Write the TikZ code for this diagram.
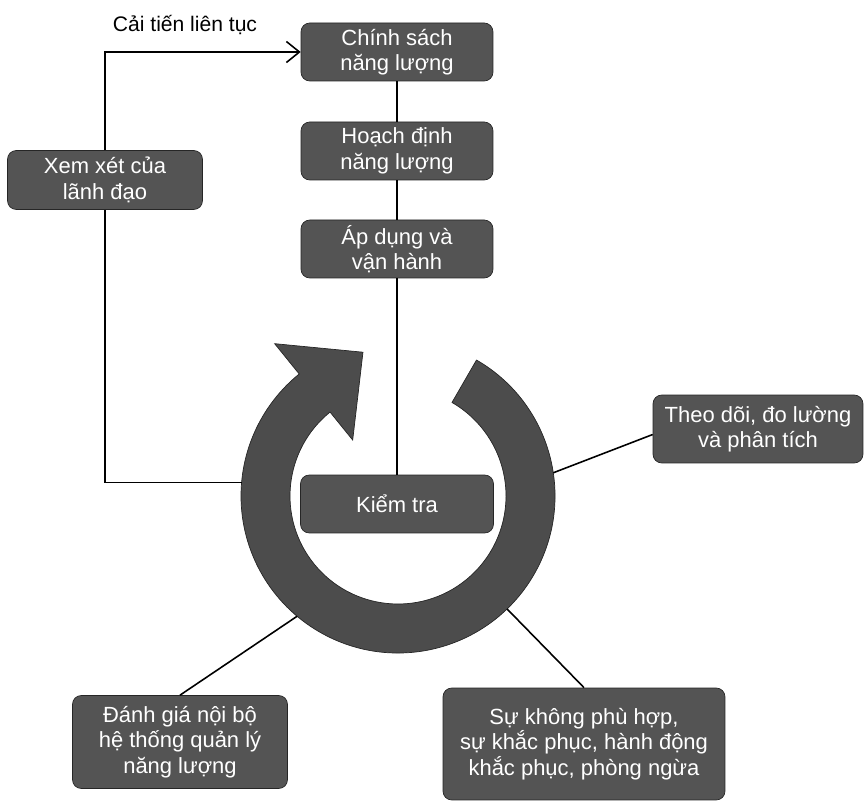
\documentclass[tikz,border=0pt]{standalone}
\usepackage{fontspec}
\setmainfont{Liberation Sans}
\usetikzlibrary{arrows.meta,calc}

\begin{document}
\begin{tikzpicture}[x=0.02cm,y=0.02cm,>={Straight Barb[length=2.6mm,width=4.2mm]},
	box/.style={draw=black!85,fill=black!67,rounded corners=5pt,text=white,inner sep=2pt,
		font=\fontsize{12.5}{14.5}\selectfont},
	ringfill/.style={draw=black!85,fill=black!70},
	link/.style={line width=0.9pt}]

	\useasboundingbox (0,0) rectangle (864,804);

	% vong tron mui ten
	\coordinate (c) at (398,308);
	\draw[ringfill] ($(c)+(60:157)$) arc[start angle=60,end angle=-231,radius=157]
		-- ($(c)+(129:196)$) -- ($(c)+(103.7:148)$) -- ($(c)+(129:72)$) -- ($(c)+(129:108)$)
		arc[start angle=129,end angle=420,radius=108] -- cycle;

	% cac khoi ben tren
	\node[box, minimum height=1.16cm,minimum width=3.84cm] (chinhsach) at (397,752) {\parbox{3.6cm}{\centering Chính sách\\năng lượng}};
	\node[box, minimum height=1.16cm,minimum width=3.84cm] (hoachdinh) at (397,653) {\parbox{3.6cm}{\centering Hoạch định\\năng lượng}};
	\node[box, minimum height=1.16cm,minimum width=3.84cm] (apdung) at (397,555) {\parbox{3.6cm}{\centering Áp dụng và\\vận hành}};
	\node[box, minimum height=1.18cm,minimum width=3.9cm] (xemxet) at (105,624) {\parbox{3.6cm}{\centering Xem xét của\\lãnh đạo}};
	\node[box, minimum height=1.16cm,minimum width=3.86cm] (kiemtra) at (397,300) {Kiểm tra};

	% cac khoi xung quanh
	\node[box, minimum height=1.36cm,minimum width=4.2cm] (theodoi) at (758,375) {\parbox{4cm}{\centering Theo dõi, đo lường\\và phân tích}};
	\node[box, minimum height=1.86cm,minimum width=4.3cm] (danhgia) at (180,62) {\parbox{4.1cm}{\centering Đánh giá nội bộ\\hệ thống quản lý\\năng lượng}};
	\node[box, minimum height=2.24cm,minimum width=5.64cm] (khongphuhop) at (584,60) {\parbox{5.4cm}{\centering Sự không phù hợp,\\sự khắc phục, hành động\\khắc phục, phòng ngừa}};

	\node[font=\fontsize{12}{14}\selectfont] (caitien) at (185,779) {Cải tiến liên tục};

	% diem noi tren vong
	\coordinate (pL) at ($(c)+(175:157)$);
	\coordinate (pR) at ($(c)+(8.5:157)$);
	\coordinate (pBL) at ($(c)+(230:157)$);
	\coordinate (pBR) at ($(c)+(-46:157)$);

	% duong noi
	\draw[link,->] (xemxet.north) |- (chinhsach.west);
	\draw[link] (xemxet.south) |- (pL);
	\draw[link] (chinhsach.south) -- (hoachdinh.north);
	\draw[link] (hoachdinh.south) -- (apdung.north);
	\draw[link] (apdung.south) -- (kiemtra.north);
	\draw[link] (pR) -- (theodoi.183);
	\draw[link] (pBL) -- (danhgia.north);
	\draw[link] (pBR) -- (khongphuhop.north);

\end{tikzpicture}
\end{document}
